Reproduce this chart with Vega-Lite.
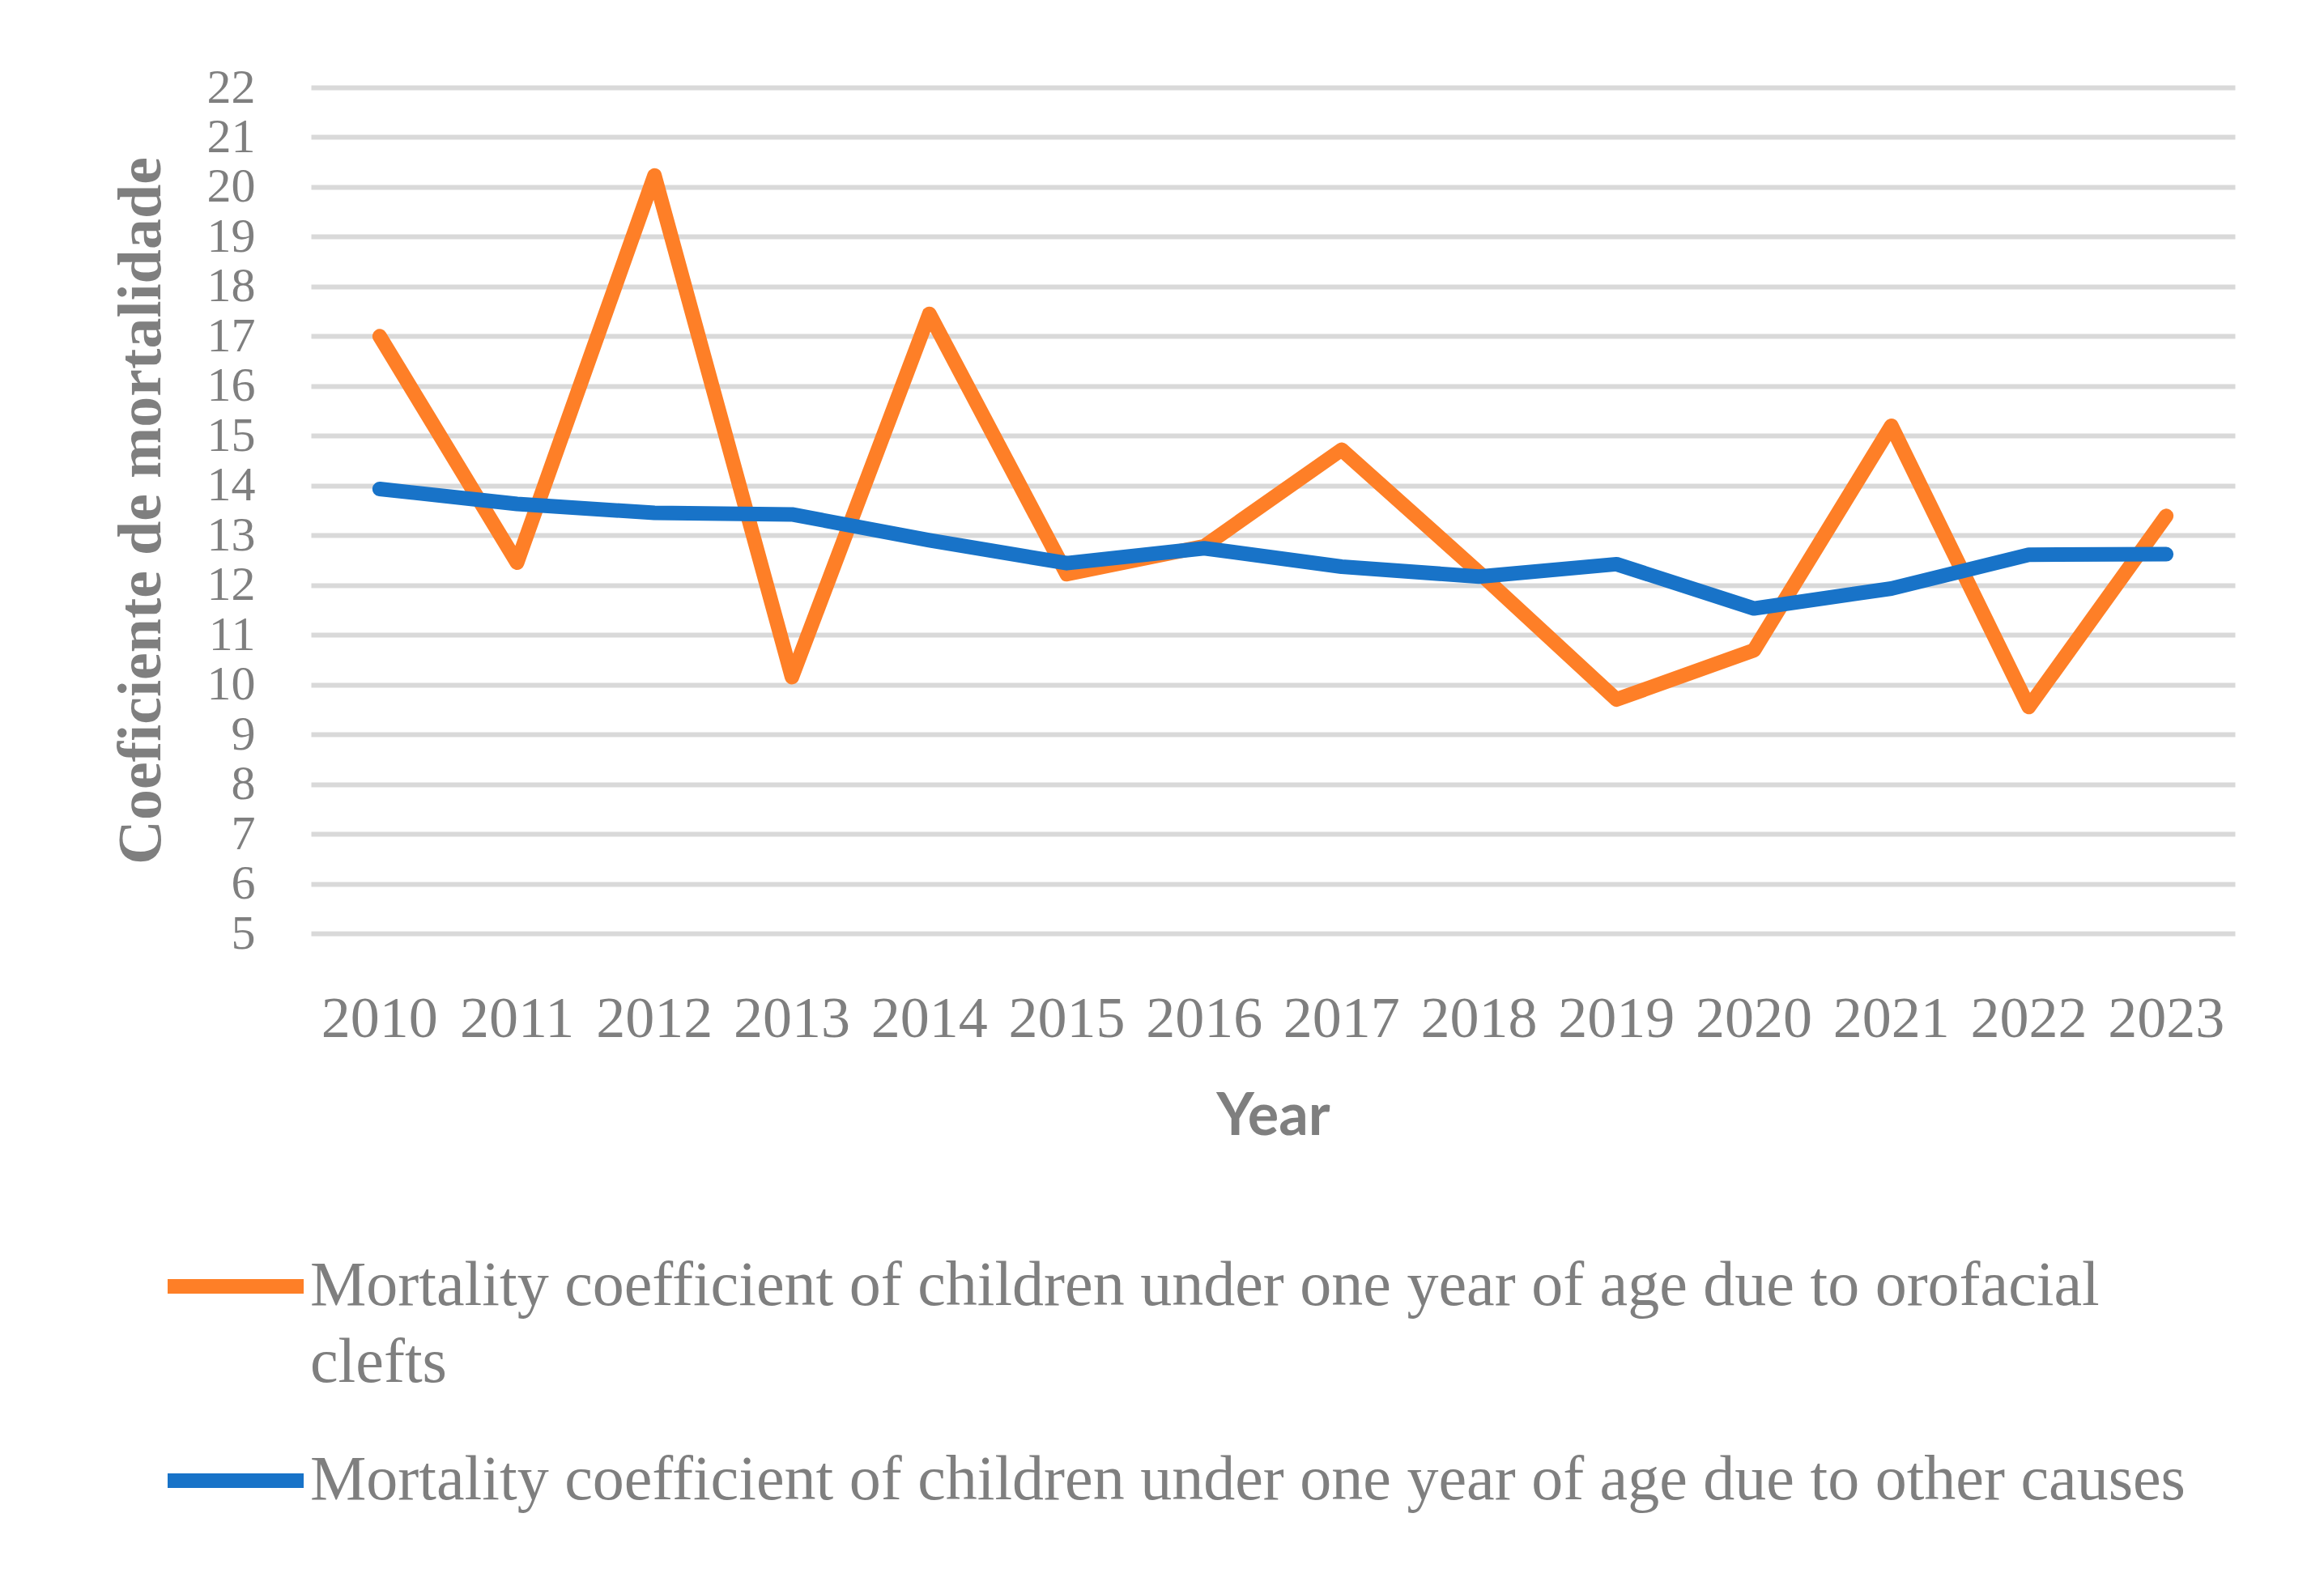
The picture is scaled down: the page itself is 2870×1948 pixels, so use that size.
{
  "$schema": "https://vega.github.io/schema/vega-lite/v6.json",
  "width": 2376,
  "height": 1045,
  "autosize": {"type": "none"},
  "padding": {"left": 384, "top": 108, "right": 110, "bottom": 795},
  "background": "white",
  "config": {
    "view": {"stroke": null},
    "axis": {"labelColor": "#7f7f7f", "titleColor": "#7f7f7f", "ticks": false, "domain": false}
  },
  "data": {
    "values": [
      {"year": "2010", "series": "Mortality coefficient of children under one year of age due to orofacial clefts", "value": 17.0},
      {"year": "2011", "series": "Mortality coefficient of children under one year of age due to orofacial clefts", "value": 12.45},
      {"year": "2012", "series": "Mortality coefficient of children under one year of age due to orofacial clefts", "value": 20.23},
      {"year": "2013", "series": "Mortality coefficient of children under one year of age due to orofacial clefts", "value": 10.15},
      {"year": "2014", "series": "Mortality coefficient of children under one year of age due to orofacial clefts", "value": 17.45},
      {"year": "2015", "series": "Mortality coefficient of children under one year of age due to orofacial clefts", "value": 12.22},
      {"year": "2016", "series": "Mortality coefficient of children under one year of age due to orofacial clefts", "value": 12.78},
      {"year": "2017", "series": "Mortality coefficient of children under one year of age due to orofacial clefts", "value": 14.72},
      {"year": "2018", "series": "Mortality coefficient of children under one year of age due to orofacial clefts", "value": 12.25},
      {"year": "2019", "series": "Mortality coefficient of children under one year of age due to orofacial clefts", "value": 9.7},
      {"year": "2020", "series": "Mortality coefficient of children under one year of age due to orofacial clefts", "value": 10.69},
      {"year": "2021", "series": "Mortality coefficient of children under one year of age due to orofacial clefts", "value": 15.2},
      {"year": "2022", "series": "Mortality coefficient of children under one year of age due to orofacial clefts", "value": 9.55},
      {"year": "2023", "series": "Mortality coefficient of children under one year of age due to orofacial clefts", "value": 13.39},
      {"year": "2010", "series": "Mortality coefficient of children under one year of age due to other causes", "value": 13.93},
      {"year": "2011", "series": "Mortality coefficient of children under one year of age due to other causes", "value": 13.63},
      {"year": "2012", "series": "Mortality coefficient of children under one year of age due to other causes", "value": 13.45},
      {"year": "2013", "series": "Mortality coefficient of children under one year of age due to other causes", "value": 13.42},
      {"year": "2014", "series": "Mortality coefficient of children under one year of age due to other causes", "value": 12.9},
      {"year": "2015", "series": "Mortality coefficient of children under one year of age due to other causes", "value": 12.44},
      {"year": "2016", "series": "Mortality coefficient of children under one year of age due to other causes", "value": 12.74},
      {"year": "2017", "series": "Mortality coefficient of children under one year of age due to other causes", "value": 12.37},
      {"year": "2018", "series": "Mortality coefficient of children under one year of age due to other causes", "value": 12.17},
      {"year": "2019", "series": "Mortality coefficient of children under one year of age due to other causes", "value": 12.42},
      {"year": "2020", "series": "Mortality coefficient of children under one year of age due to other causes", "value": 11.53},
      {"year": "2021", "series": "Mortality coefficient of children under one year of age due to other causes", "value": 11.93},
      {"year": "2022", "series": "Mortality coefficient of children under one year of age due to other causes", "value": 12.61},
      {"year": "2023", "series": "Mortality coefficient of children under one year of age due to other causes", "value": 12.62}
    ]
  },
  "mark": {"type": "line", "strokeWidth": 18, "strokeCap": "round", "strokeJoin": "round"},
  "encoding": {
    "x": {
      "field": "year",
      "type": "ordinal",
      "scale": {"type": "band", "paddingInner": 0, "paddingOuter": 0},
      "axis": {
        "title": "Year",
        "labelAngle": 0,
        "labelFont": "Liberation Serif",
        "labelFontSize": 72,
        "labelPadding": 70,
        "titleFont": "Lato",
        "titleFontWeight": "bold",
        "titleFontSize": 72,
        "titlePadding": 50,
        "grid": false
      }
    },
    "y": {
      "field": "value",
      "type": "quantitative",
      "scale": {"domain": [5, 22], "nice": false, "zero": false},
      "axis": {
        "title": "Coeficiente de mortalidade",
        "values": [5, 6, 7, 8, 9, 10, 11, 12, 13, 14, 15, 16, 17, 18, 19, 20, 21, 22],
        "labelOverlap": false,
        "labelBound": false,
        "labelFont": "Liberation Serif",
        "labelFontSize": 60,
        "labelPadding": 69,
        "titleFont": "Liberation Serif",
        "titleFontWeight": "bold",
        "titleFontSize": 76,
        "titlePadding": 42,
        "grid": true,
        "gridColor": "#d9d9d9",
        "gridWidth": 6
      }
    },
    "color": {
      "field": "series",
      "type": "nominal",
      "scale": {
        "domain": [
          "Mortality coefficient of children under one year of age due to orofacial clefts",
          "Mortality coefficient of children under one year of age due to other causes"
        ],
        "range": ["#fe7f27", "#1873c8"]
      },
      "legend": {
        "title": null,
        "orient": "none",
        "direction": "vertical",
        "legendX": -186,
        "legendY": 1388,
        "symbolType": "stroke",
        "symbolSize": 28224,
        "symbolStrokeWidth": 18,
        "labelFont": "Liberation Serif",
        "labelFontSize": 78,
        "labelColor": "#7f7f7f",
        "labelLimit": 3000,
        "labelOffset": -1,
        "rowPadding": 13,
        "labelExpr": "datum.label == 'Mortality coefficient of children under one year of age due to orofacial clefts' ? ['Mortality coefficient of children under one year of age due to orofacial', 'clefts'] : datum.label",
        "encode": {"labels": {"update": {"lineHeight": {"value": 95}}}}
      }
    }
  }
}
